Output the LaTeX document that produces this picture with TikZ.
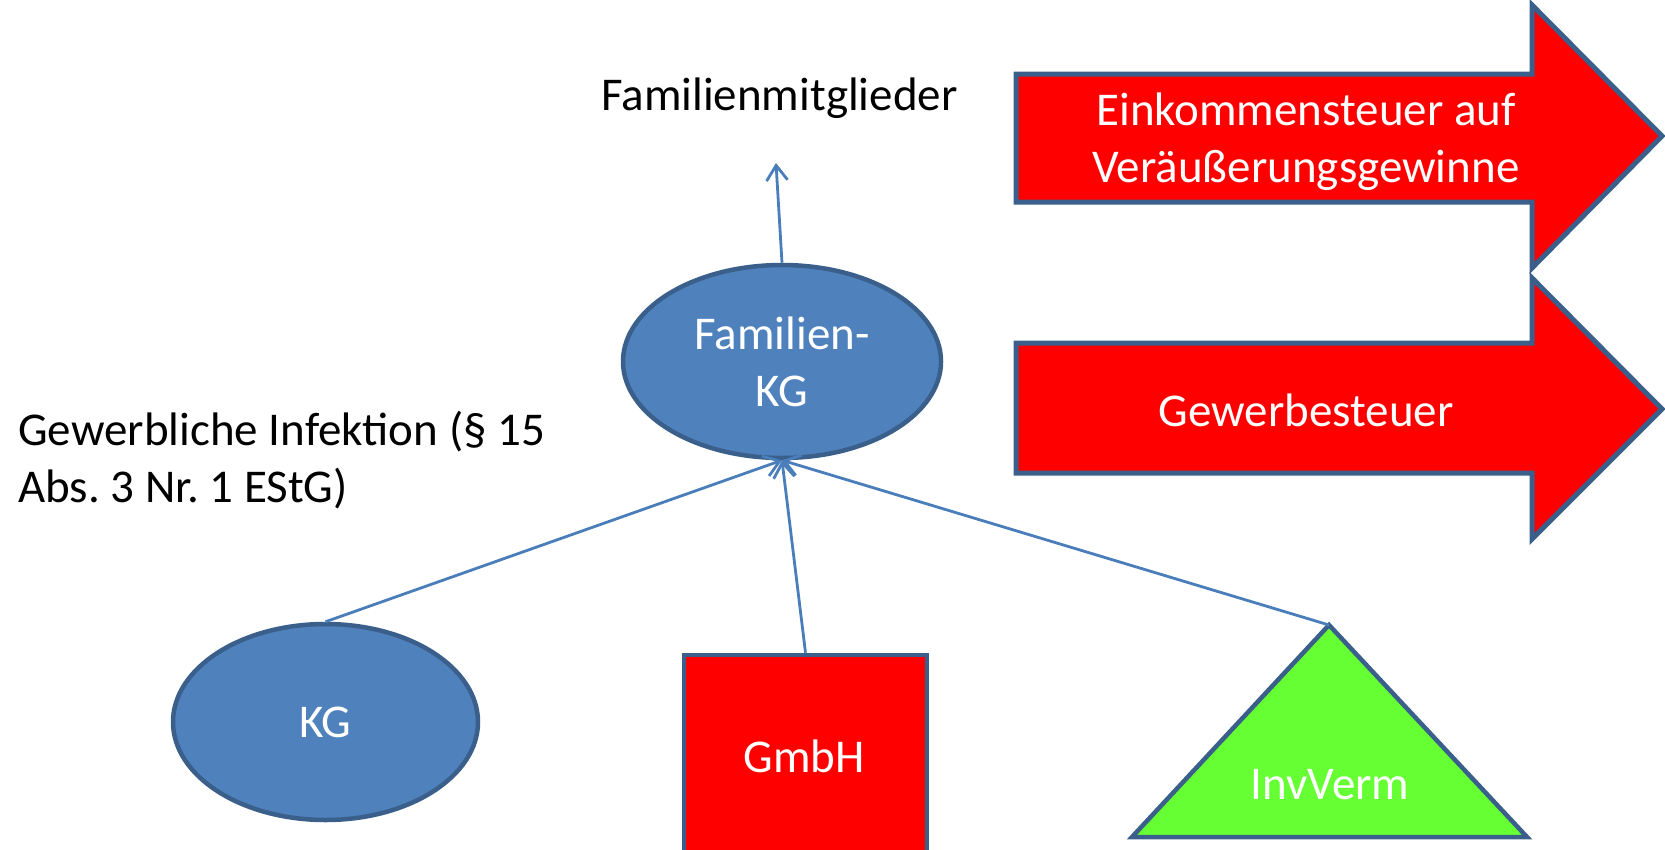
\documentclass[tikz,border=0pt]{standalone}
\usepackage{fontspec}
\setmainfont{Carlito}
\usetikzlibrary{shapes.geometric,arrows.meta}
\definecolor{kgblue}{HTML}{4F81BD}
\definecolor{kgedge}{HTML}{3A5F8B}
\definecolor{linkblue}{HTML}{4A7EBB}
\definecolor{taxred}{HTML}{FF0000}
\definecolor{invgreen}{HTML}{66FF33}
\frenchspacing
\begin{document}
\begin{tikzpicture}[x=1pt,y=-1pt,
  txt/.style={font=\fontsize{47}{57}\selectfont, inner sep=0pt},
  whitetxt/.style={txt, text=white},
  entity/.style={draw=kgedge, line width=4.5pt},
  link/.style={draw=linkblue, line width=2.8pt,
    -{Straight Barb[length=15pt,width=21pt,line width=2.8pt]}},
  taxarrow/.style={draw=kgedge, fill=taxred, line width=5pt},
]
\useasboundingbox (0,0) rectangle (1665,849);

% tax consequences
\draw[taxarrow] (1016,74) -- (1532,74) -- (1532,5) -- (1662,136)
  -- (1532,268) -- (1532,202) -- (1016,202) -- cycle;
\node[whitetxt, align=center] (est) at (1306,142)
  {Einkommensteuer auf\\Veräußerungsgewinne};
\draw[taxarrow] (1016,343) -- (1532,343) -- (1532,278) -- (1662,409)
  -- (1532,539) -- (1532,473) -- (1016,473) -- cycle;
\node[whitetxt] (gewst) at (1306,410) {Gewerbesteuer};

% family partnership and its members
\node[txt, anchor=west] (members) at (601,98) {Familienmitglieder};
\coordinate (memtip) at (776,163);
\node[entity, ellipse, fill=kgblue, minimum width=318pt, minimum height=193pt,
  inner sep=0pt, whitetxt, align=center] (fkg) at (782,361.5) {Familien-\\KG};

\node[txt, anchor=west, align=left] (infekt) at (18,460)
  {Gewerbliche Infektion (§ 15\\Abs. 3 Nr. 1 EStG)};

% holdings
\node[entity, ellipse, fill=kgblue, minimum width=305pt, minimum height=196pt,
  inner sep=0pt, whitetxt] (kg) at (325.5,722) {KG};
\node[entity, fill=taxred, minimum width=243pt, minimum height=215pt,
  inner sep=0pt] (gmbh) at (805.5,762.5) {};
\node[whitetxt] (gmbhtxt) at (804,756) {GmbH};
\draw[entity, fill=invgreen, line join=miter]
  (1329,625) coordinate (inv) -- (1527,837) -- (1132,837) -- cycle;
\node[whitetxt] (invtxt) at (1330,785) {InvVerm};

% connectors
\draw[link] (fkg.north) -- (memtip);
\draw[link] (kg.north) -- (fkg.south);
\draw[link] (gmbh.north) -- (fkg.south);
\draw[link] (inv) -- (fkg.south);
\end{tikzpicture}
\end{document}
